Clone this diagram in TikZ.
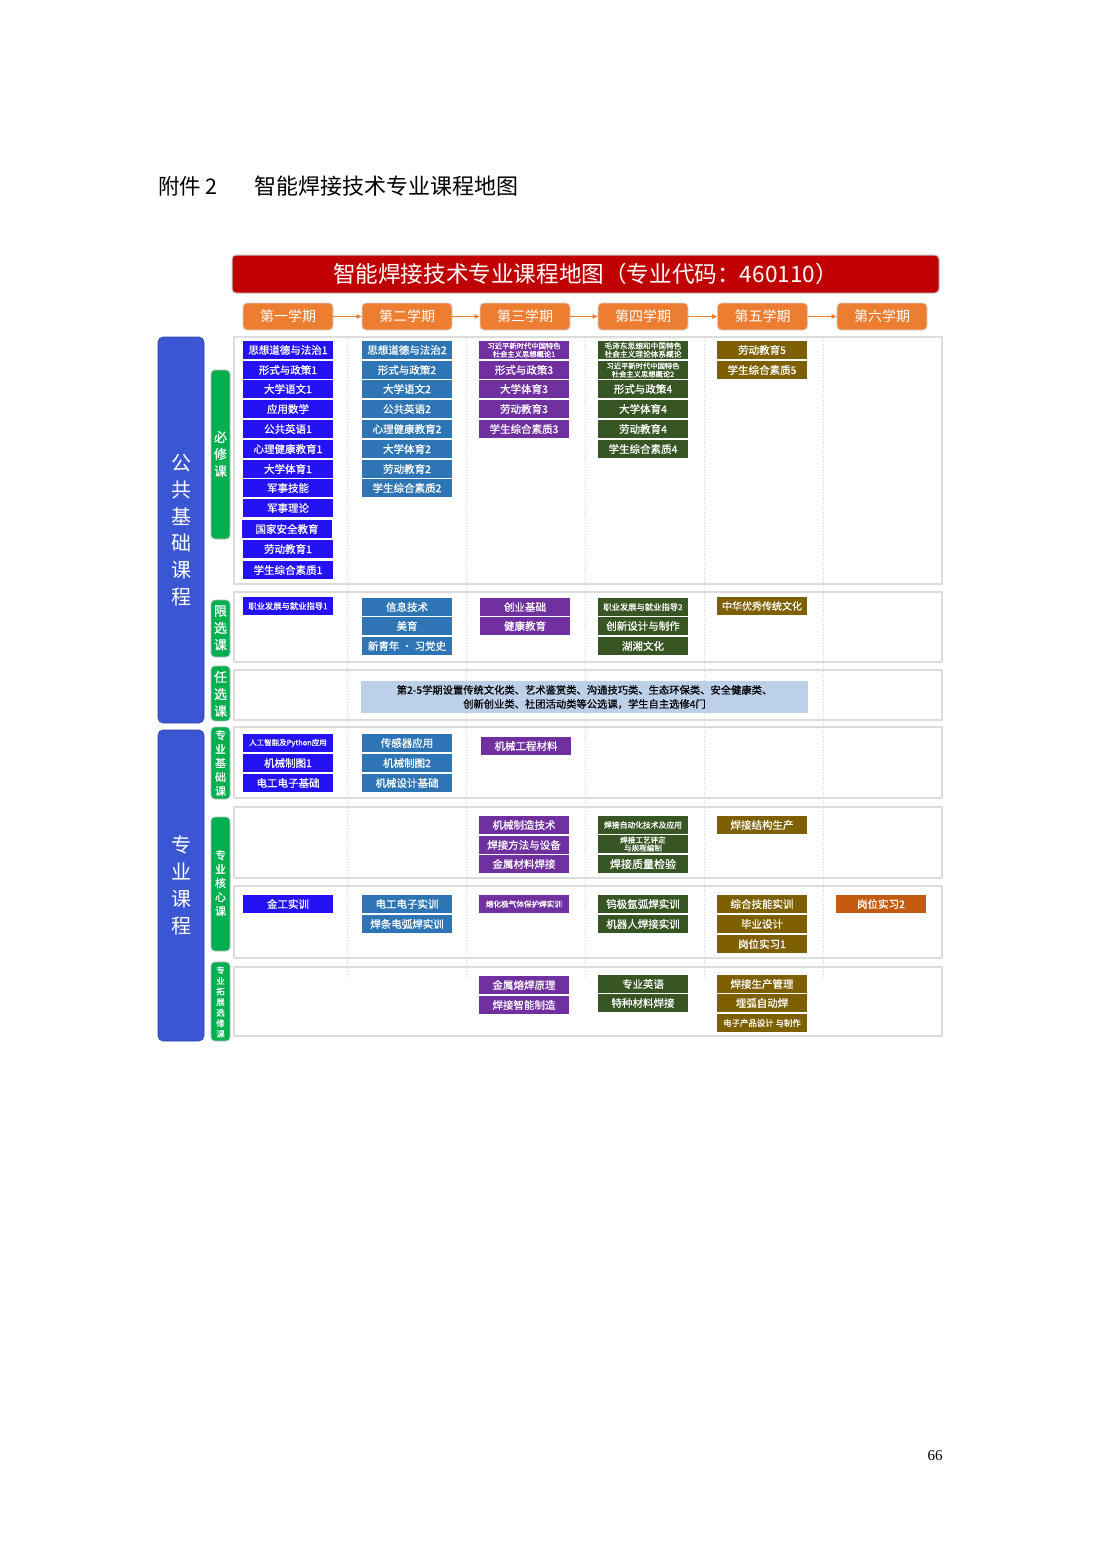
\documentclass[tikz,border=0pt]{standalone}
\usepackage{fontspec}
\setmainfont{Noto Sans CJK SC}
\newfontfamily\bx{Noto Sans CJK SC}[FakeBold=0.7]
\newfontfamily\pgnum{Liberation Serif}
\usetikzlibrary{arrows.meta}
\definecolor{cA}{RGB}{36,18,245}
\definecolor{cB}{RGB}{46,117,182}
\definecolor{cC}{RGB}{112,48,160}
\definecolor{cD}{RGB}{55,86,35}
\definecolor{cE}{RGB}{127,96,0}
\definecolor{cF}{RGB}{197,90,17}
\definecolor{bannerred}{RGB}{192,0,0}
\definecolor{semorange}{RGB}{237,125,49}
\definecolor{bigblue}{RGB}{58,86,210}
\definecolor{labgreen}{RGB}{0,176,80}
\definecolor{framegray}{RGB}{220,220,220}
\definecolor{optblue}{RGB}{189,208,233}
\tikzset{
  cbox/.style={minimum width=90pt,minimum height=18pt,inner sep=0pt,text=white,
    font=\bx\fontsize{10.5}{12}\selectfont},
  fs/.style={font=\bx\fontsize{#1}{#1}\selectfont},
  twol/.style={align=center,font=\bx\fontsize{#1}{8.2}\selectfont},
  sembox/.style={rectangle,rounded corners=4pt,fill=semorange,draw=gray!35,line width=0.8pt,
    minimum width=90pt,minimum height=27pt,inner sep=0pt,text=white,
    font=\fontsize{14}{16}\selectfont},
  semarr/.style={draw=semorange,line width=1pt,-{Triangle[length=5pt,width=4.5pt]}},
  rowframe/.style={draw=framegray,line width=1.6pt,fill=white},
  bigbar/.style={fill=bigblue,draw=bigblue!80!black,line width=0.6pt,rounded corners=5pt},
  greenbar/.style={fill=labgreen,draw=gray!55,line width=0.6pt,rounded corners=4pt},
  vtext/.style={align=center,text=white,inner sep=0pt},
  sep/.style={draw=gray!35,line width=0.8pt,dotted},
}
\newcommand\cb[5]{\node[cbox,fill=#2] (#1) at (#3,#4) {#5};}
\begin{document}
\begin{tikzpicture}[x=1pt,y=-1pt]
\useasboundingbox (0,0) rectangle (1102,1559);
\fill[white] (0,0) rectangle (1102,1559);

% header
\node[anchor=west,inner sep=0pt,font=\fontsize{21.5}{24}\selectfont] (hdA) at (158,186) {附件 2};
\node[anchor=west,inner sep=0pt,font=\fontsize{22}{24}\selectfont] (hdB) at (254,186) {智能焊接技术专业课程地图};

% banner
\node[rectangle,rounded corners=4pt,fill=bannerred,draw=gray!45,line width=1pt,
  minimum width=707pt,minimum height=38pt,inner sep=0pt,text=white,
  font=\fontsize{22.6}{24}\selectfont] (banner) at (585.5,274) {智能焊接技术专业课程地图（专业代码：460110）};

% semesters
\node[sembox] (s1) at (288,316.5) {第一学期};
\node[sembox] (s2) at (407,316.5) {第二学期};
\node[sembox] (s3) at (525,316.5) {第三学期};
\node[sembox] (s4) at (643,316.5) {第四学期};
\node[sembox] (s5) at (762.5,316.5) {第五学期};
\node[sembox] (s6) at (882,316.5) {第六学期};
\draw[semarr] (s1.east) -- (s2.west);
\draw[semarr] (s2.east) -- (s3.west);
\draw[semarr] (s3.east) -- (s4.west);
\draw[semarr] (s4.east) -- (s5.west);
\draw[semarr] (s5.east) -- (s6.west);

% row frames
\path[rowframe] (234,337) rectangle (942,584);
\path[rowframe] (234,592) rectangle (942,662);
\path[rowframe] (234,670) rectangle (942,720);
\path[rowframe] (234,727) rectangle (942,798);
\path[rowframe] (234,807) rectangle (942,878);
\path[rowframe] (234,886) rectangle (942,958);
\path[rowframe] (234,967) rectangle (942,1036);

% dotted column separators
\foreach \xx in {347,466,585,704,823} {\draw[sep] (\xx,338) -- (\xx,978);}

% left big bars
\path[bigbar] (158,337) rectangle (204,723);
\path[bigbar] (158,730) rectangle (204,1041);
\node[vtext,font=\fontsize{20}{26.8}\selectfont] (lbA) at (181,530) {公\\共\\基\\础\\课\\程};
\node[vtext,font=\fontsize{20}{26.8}\selectfont] (lbB) at (181,885.5) {专\\业\\课\\程};

% green bars
\path[greenbar] (211,370) rectangle (230,539);
\path[greenbar] (211,600) rectangle (230,657);
\path[greenbar] (211,666) rectangle (230,721);
\path[greenbar] (211,727) rectangle (230,799);
\path[greenbar] (211,817) rectangle (230,951);
\path[greenbar] (211,962) rectangle (230,1041);
\node[vtext,font=\bx\fontsize{13}{17}\selectfont] (gA) at (220.5,454) {必\\修\\课};
\node[vtext,font=\bx\fontsize{13}{17}\selectfont] (gB) at (220.5,628) {限\\选\\课};
\node[vtext,font=\bx\fontsize{13}{17}\selectfont] (gC) at (220.5,694) {任\\选\\课};
\node[vtext,font=\bx\fontsize{11}{14}\selectfont] (gD) at (220.5,763) {专\\业\\基\\础\\课};
\node[vtext,font=\bx\fontsize{11}{14}\selectfont] (gE) at (220.5,883) {专\\业\\核\\心\\课};
\node[vtext,font=\bx\fontsize{8.5}{10.6}\selectfont] (gF) at (220.5,1002) {专\\业\\拓\\展\\选\\修\\课};

% ===== 必修课 =====
\cb{aA}{cA}{288}{350}{思想道德与法治1}
\cb{aB}{cA}{288}{370}{形式与政策1}
\cb{aC}{cA}{288}{389}{大学语文1}
\cb{aD}{cA}{288}{409}{应用数学}
\cb{aE}{cA}{288}{429}{公共英语1}
\cb{aF}{cA}{288}{449}{心理健康教育1}
\cb{aG}{cA}{288}{469}{大学体育1}
\cb{aH}{cA}{288}{488}{军事技能}
\cb{aI}{cA}{288}{508}{军事理论}
\cb{aJ}{cA}{287}{529}{国家安全教育}
\cb{aK}{cA}{288}{549}{劳动教育1}
\cb{aL}{cA}{288}{570}{学生综合素质1}

\cb{bA}{cB}{407}{350}{思想道德与法治2}
\cb{bB}{cB}{407}{370}{形式与政策2}
\cb{bC}{cB}{407}{389}{大学语文2}
\cb{bD}{cB}{407}{409}{公共英语2}
\cb{bE}{cB}{407}{429}{心理健康教育2}
\cb{bF}{cB}{407}{449}{大学体育2}
\cb{bG}{cB}{407}{469}{劳动教育2}
\cb{bH}{cB}{407}{488}{学生综合素质2}

\node[cbox,fill=cC,twol=7.3] (cA1) at (524,350) {习近平新时代中国特色\\社会主义思想概论1};
\cb{cB1}{cC}{524}{370}{形式与政策3}
\cb{cC1}{cC}{524}{389}{大学体育3}
\cb{cD1}{cC}{524}{409}{劳动教育3}
\cb{cE1}{cC}{524}{429}{学生综合素质3}

\node[cbox,fill=cD,twol=7.7] (dA) at (643,350) {毛泽东思想和中国特色\\社会主义理论体系概论};
\node[cbox,fill=cD,twol=7.3] (dB) at (643,370) {习近平新时代中国特色\\社会主义思想概论2};
\cb{dC}{cD}{643}{389}{形式与政策4}
\cb{dD}{cD}{643}{409}{大学体育4}
\cb{dE}{cD}{643}{429}{劳动教育4}
\cb{dF}{cD}{643}{449}{学生综合素质4}

\cb{eA}{cE}{762}{350}{劳动教育5}
\cb{eB}{cE}{762}{370}{学生综合素质5}

% ===== 限选课 =====
\node[cbox,fill=cA,fs=8.3] (xA) at (288,606) {职业发展与就业指导1};
\cb{xB}{cB}{407}{607}{信息技术}
\cb{xC}{cB}{407}{626}{美育}
\cb{xD}{cB}{407}{646}{新青年 · 习党史}
\cb{xE}{cC}{525}{607}{创业基础}
\cb{xF}{cC}{525}{626}{健康教育}
\node[cbox,fill=cD,fs=8.3] (xG) at (643,607) {职业发展与就业指导2};
\cb{xH}{cD}{643}{626}{创新设计与制作}
\cb{xI}{cD}{643}{646}{湖湘文化}
\node[cbox,fill=cE,fs=10] (xJ) at (762,606) {中华优秀传统文化};

% ===== 任选课 =====
\node[fill=optblue,minimum width=447pt,minimum height=32pt,inner sep=0pt,align=center,
  font=\bx\fontsize{10.3}{14}\selectfont] (opt) at (584.5,697)
  {第2-5学期设置传统文化类、艺术鉴赏类、沟通技巧类、生态环保类、安全健康类、\\创新创业类、社团活动类等公选课，学生自主选修4门};

% ===== 专业基础课 =====
\node[cbox,fill=cA,fs=7.5] (jA) at (288,743) {人工智能及Python应用};
\cb{jB}{cA}{288}{763}{机械制图1}
\cb{jC}{cA}{288}{783}{电工电子基础}
\cb{jD}{cB}{407}{743}{传感器应用}
\cb{jE}{cB}{407}{763}{机械制图2}
\cb{jF}{cB}{407}{783}{机械设计基础}
\cb{jG}{cC}{526}{746}{机械工程材料}

% ===== 专业核心课 =====
\cb{kA}{cC}{524}{825}{机械制造技术}
\cb{kB}{cC}{524}{845}{焊接方法与设备}
\cb{kC}{cC}{524}{864}{金属材料焊接}
\node[cbox,fill=cD,fs=7.8] (kD) at (643,825) {焊接自动化技术及应用};
\node[cbox,fill=cD,align=center,font=\bx\fontsize{7.6}{8}\selectfont] (kE) at (643,844) {焊接工艺评定\\与规程编制};
\node[cbox,fill=cD,fs=11] (kF) at (643,864) {焊接质量检验};
\cb{kG}{cE}{762}{825}{焊接结构生产}

% ===== 实训 =====
\cb{tA}{cA}{288}{904}{金工实训}
\cb{tB}{cB}{407}{904}{电工电子实训}
\cb{tC}{cB}{407}{924}{焊条电弧焊实训}
\node[cbox,fill=cC,fs=7.6] (tD) at (524,904) {熔化极气体保护焊实训};
\cb{tE}{cD}{643}{904}{钨极氩弧焊实训}
\cb{tF}{cD}{643}{924}{机器人焊接实训}
\cb{tG}{cE}{762}{904}{综合技能实训}
\cb{tH}{cE}{762}{924}{毕业设计}
\cb{tI}{cE}{762}{944}{岗位实习1}
\cb{tJ}{cF}{881}{904}{岗位实习2}

% ===== 专业拓展选修课 =====
\cb{uA}{cC}{524}{985}{金属熔焊原理}
\cb{uB}{cC}{524}{1005}{焊接智能制造}
\cb{uC}{cD}{643}{984}{专业英语}
\cb{uD}{cD}{643}{1003}{特种材料焊接}
\cb{uE}{cE}{762}{984}{焊接生产管理}
\cb{uF}{cE}{762}{1003}{埋弧自动焊}
\node[cbox,fill=cE,fs=8.4] (uG) at (762,1023) {电子产品设计 与制作};

% page number
\node[inner sep=0pt,font=\pgnum\fontsize{15}{17}\selectfont] (pg) at (935,1456) {66};
\end{tikzpicture}
\end{document}
